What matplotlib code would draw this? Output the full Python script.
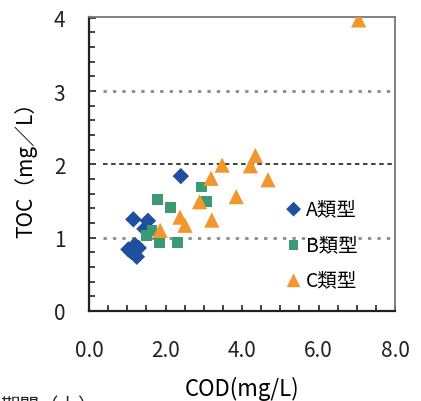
import matplotlib
matplotlib.use("Agg")
import matplotlib.pyplot as plt
from matplotlib.ticker import MultipleLocator, FixedLocator

plt.rcParams['font.family'] = ['Noto Sans CJK JP', 'DejaVu Sans']

# Data (COD, TOC) in mg/L
a_cod = [2.40, 1.16, 1.54, 1.45, 1.03, 1.20, 1.25, 1.10, 1.30]
a_toc = [1.84, 1.25, 1.23, 1.12, 0.84, 0.90, 0.74, 0.81, 0.86]

b_cod = [1.80, 2.14, 2.95, 3.08, 1.85, 2.32, 1.50, 1.65]
b_toc = [1.52, 1.41, 1.69, 1.49, 0.93, 0.93, 1.03, 1.10]

c_cod = [7.05, 4.35, 4.22, 3.48, 3.19, 4.68, 3.85, 2.89, 3.21, 2.38, 2.51, 1.86]
c_toc = [3.97, 2.12, 1.98, 1.99, 1.81, 1.79, 1.56, 1.49, 1.24, 1.28, 1.17, 1.10]

labels = ['A類型', 'B類型', 'C類型']
x_ticks = [0, 2, 4, 6, 8]
x_ticklabels = ['0.0', '2.0', '4.0', '6.0', '8.0']
y_ticks = [0, 1, 2, 3, 4]

fig = plt.figure(figsize=(4.21, 4.02), dpi=100)
ax = fig.add_axes([89/421, 1-312/402, 306/421, 294/402])

ax.set_xlim(0, 8)
ax.set_ylim(0, 4.01)

# reference lines
ax.hlines(1, 0.37, 8, colors='#8a8a8a', linestyles=(0, (1.2, 2.2)), linewidth=2.0, zorder=1)
ax.hlines(2, 0.37, 8, colors='#333333', linestyles=(0, (2.5, 2.0)), linewidth=1.3, zorder=1)
ax.hlines(3, 0.37, 8, colors='#8a8a8a', linestyles=(0, (1.2, 2.2)), linewidth=2.0, zorder=1)

ax.scatter(a_cod, a_toc, marker='D', s=70, color='#1f4f9e', edgecolors='none', label=labels[0], zorder=3)
ax.scatter(b_cod, b_toc, marker='s', s=60, color='#3a9a72', edgecolors='none', label=labels[1], zorder=3)
ax.scatter(c_cod, c_toc, marker='^', s=120, color='#f2962e', edgecolors='none', label=labels[2], zorder=4)

ax.xaxis.set_major_locator(FixedLocator(x_ticks))
ax.set_xticklabels(x_ticklabels)
ax.xaxis.set_minor_locator(MultipleLocator(0.5))
ax.yaxis.set_major_locator(FixedLocator(y_ticks))
ax.yaxis.set_minor_locator(MultipleLocator(0.2))

ax.tick_params(axis='both', which='both', direction='in', colors='#222222')
ax.tick_params(axis='x', which='major', length=4, width=1.2, pad=20, labelsize=15)
ax.tick_params(axis='x', which='minor', length=4, width=1.2)
ax.tick_params(axis='y', which='major', length=5, width=1.2, pad=17, labelsize=15)
ax.tick_params(axis='y', which='minor', length=4, width=1.2)
ax.tick_params(top=False, right=False, which='both')

for s in ['left', 'bottom']:
    ax.spines[s].set_color('#222222')
    ax.spines[s].set_linewidth(1.6)
for s in ['top', 'right']:
    ax.spines[s].set_color('#777777')
    ax.spines[s].set_linewidth(1.3)

ax.set_xlabel('COD(mg/L)', fontsize=16, labelpad=11)
ax.set_ylabel('TOC（mg／L）', fontsize=15, labelpad=12)

leg = ax.legend(loc='upper left', bbox_to_anchor=(0.605, 0.41), frameon=False,
                fontsize=14, handletextpad=0.05, labelspacing=0.75, markerscale=0.9,
                borderaxespad=0, handlelength=1.2)

fig.text(0.0, 1 - 396/402, '期間（上）', fontsize=14, va='top', ha='left', color='#222222')

fig.savefig('out.png', dpi=100)
